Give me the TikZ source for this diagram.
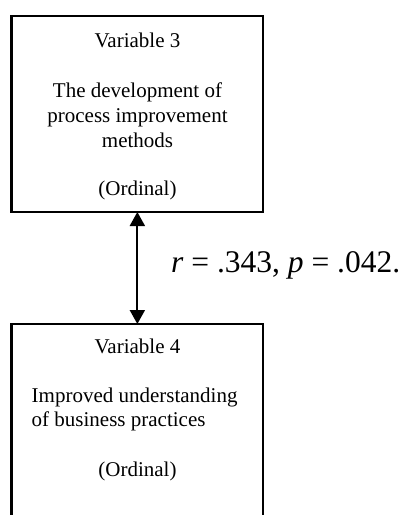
\documentclass[tikz,border=0pt]{standalone}
\usepackage{fontspec}
\setmainfont{Liberation Serif}
\usetikzlibrary{arrows.meta}
\begin{document}
\begin{tikzpicture}[x=1pt,y=-1pt,
  varbox/.style={draw=black, line width=2.6pt, inner sep=0pt, outer sep=0pt},
  boxtext/.style={inner sep=0pt, font=\fontsize{21}{25}\selectfont},
  stattext/.style={inner sep=0pt, font=\fontsize{31.5}{36}\selectfont},
  biarrow/.style={line width=2pt, {Triangle[width=15pt,length=14pt]}-{Triangle[width=15pt,length=14pt]}}]
\useasboundingbox (0,0) rectangle (406,515);
\clip (0,0) rectangle (406,515);
% box 1
\node[varbox, minimum width=251.3pt, minimum height=196pt] (box1) at (137.35,114) {};
\node[boxtext, anchor=base] (v3) at (137.5,47) {Variable 3};
\node[boxtext, anchor=base] (v3a) at (137.5,97) {The development of};
\node[boxtext, anchor=base] (v3b) at (137.5,122) {process improvement};
\node[boxtext, anchor=base] (v3c) at (137.5,147) {methods};
\node[boxtext, anchor=base] (v3d) at (137.5,195) {(Ordinal)};
% box 2 (cut by the lower edge)
\node[varbox, minimum width=251.3pt, minimum height=216pt] (box2) at (137.35,432) {};
\node[boxtext, anchor=base] (v4) at (137.5,353) {Variable 4};
\node[boxtext, anchor=base west] (v4a) at (31.5,402) {Improved understanding};
\node[boxtext, anchor=base west] (v4b) at (31.5,426) {of business practices};
\node[boxtext, anchor=base] (v4d) at (137.5,476) {(Ordinal)};
% connector and statistic
\draw[biarrow] (box1.south) -- (box2.north);
\node[stattext, anchor=base west] (stat) at (171,272) {\textit{r} = .343, \textit{p} = .042.};
\end{tikzpicture}
\end{document}
